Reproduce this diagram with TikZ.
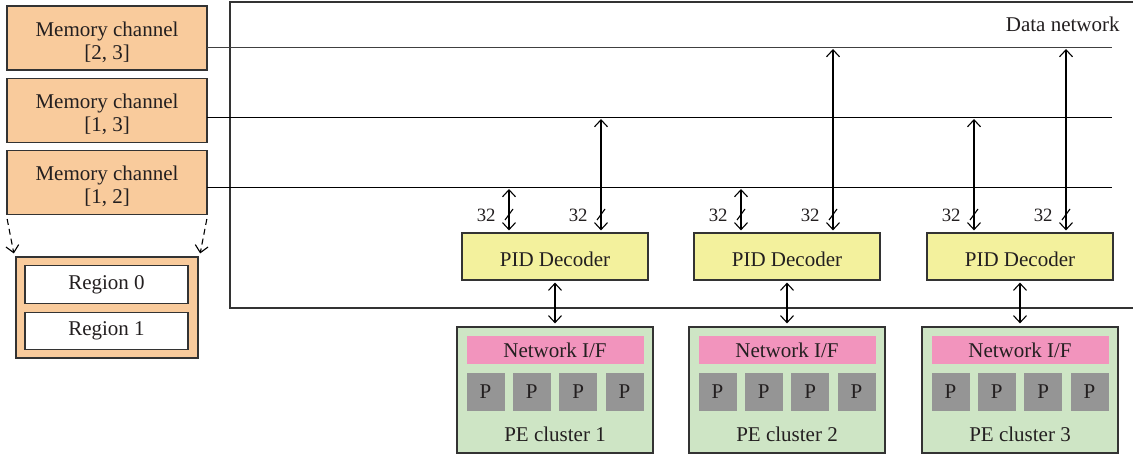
\documentclass[tikz,border=0pt]{standalone}
\usepackage{fontspec}
\setmainfont{Liberation Serif}
\usetikzlibrary{arrows.meta}

\definecolor{memfill}{HTML}{F9CB9C}
\definecolor{decfill}{HTML}{F3F19D}
\definecolor{pefill}{HTML}{CEE5C5}
\definecolor{niffill}{HTML}{F294BD}
\definecolor{pfill}{HTML}{959595}
\definecolor{edge}{HTML}{333333}
\definecolor{ink}{HTML}{231F20}

\tikzset{
  txt/.style={font=\fontsize{10.5}{11.6}\selectfont, text=ink},
  box/.style={draw=edge, line width=0.6pt, inner sep=0pt, align=center, txt},
  membox/.style={box, fill=memfill, minimum width=100pt, minimum height=32pt},
  memtext/.style={txt, align=center, inner sep=0pt},
  regbox/.style={box, fill=white, minimum width=81.5pt, minimum height=18.8pt},
  decbox/.style={box, fill=decfill, minimum width=93pt, minimum height=23.5pt, text height=9.8pt, text depth=0pt},
  pebox/.style={box, fill=pefill, minimum width=98pt, minimum height=63pt},
  nifbox/.style={inner sep=0pt, fill=niffill, minimum width=88.5pt, minimum height=13.8pt, txt},
  pbox/.style={inner sep=0pt, fill=pfill, minimum width=19pt, minimum height=19pt, txt},
  busline/.style={draw=black, line width=0.55pt},
  biarrow/.style={draw=black, line width=0.55pt, {Straight Barb[length=3.5pt,width=6.5pt]}-{Straight Barb[length=3.5pt,width=6.5pt]}},
  dasharrow/.style={draw=black, line width=0.55pt, dash pattern=on 3pt off 2pt, -{Straight Barb[length=3.5pt,width=6.5pt]}},
  widthlab/.style={font=\fontsize{9.4}{10}\selectfont, text=ink, inner sep=0pt, anchor=east},
}

\begin{document}
\begin{tikzpicture}[x=0.5pt, y=-0.5pt]
\useasboundingbox (0,0) rectangle (1133,459);

% data network frame (open on the right)
\draw[line width=0.6pt, draw=edge] (1133,2) -- (230,2) -- (230,308) -- (1133,308);
\node[txt, anchor=east, inner sep=0pt] (dn) at (1120,24) {Data network};

% memory channels
\node[membox] (m23) at (107,38)  {};
\node[memtext] (m23t) at (107,42) {Memory channel\\{}[2, 3]};
\node[membox] (m13) at (107,110.5) {};
\node[memtext] (m13t) at (107,114.5) {Memory channel\\{}[1, 3]};
\node[membox] (m12) at (107,182.5) {};
\node[memtext] (m12t) at (107,186.5) {Memory channel\\{}[1, 2]};

% bus lines of the data network
\coordinate (a23) at (207,47.5);  \coordinate (b23) at (1112,47.5);
\coordinate (a13) at (207,117.5); \coordinate (b13) at (1112,117.5);
\coordinate (a12) at (207,187.5); \coordinate (b12) at (1112,187.5);
\draw[busline, line width=0.8pt, draw=black!75] (a23) -- (b23);
\draw[busline] (a13) -- (b13);
\draw[busline] (a12) -- (b12);

% memory regions
\node[box, fill=memfill, minimum width=91pt, minimum height=50.5pt] (reg) at (107,307.5) {};
\node[regbox] (r0) at (106.5,284.5) {Region 0};
\node[regbox] (r1) at (106.5,331) {Region 1};
\draw[dasharrow, shorten <=2pt, shorten >=1.5pt] (m12.south west) -- ([xshift=-0.5pt]reg.north west);
\draw[dasharrow, shorten <=2pt, shorten >=1.5pt] (m12.south east) -- ([xshift=0.5pt]reg.north east);

% decoders and PE clusters
\foreach \i/\cx/\ya/\yb in {1/555/187.5/117.5, 2/787/187.5/47.5, 3/1020/117.5/47.5}{
  \node[decbox] (d\i) at (\cx,256.5) {PID Decoder};
  \node[pebox]  (c\i) at (\cx,390) {};
  \node[nifbox] (n\i) at (\cx,350) {Network I/F};
  \foreach \k/\dx in {1/-69.5, 2/-23.2, 3/23.2, 4/69.5}{
    \node[pbox] (p\i\k) at (\cx+\dx,392) {P};
  }
  \node[txt, inner sep=0pt] (cl\i) at (\cx,434) {PE cluster \i};
  \draw[biarrow, shorten <=1pt, shorten >=1.5pt] (d\i.south) -- (c\i.north);
  % links to the bus lines, 32 bits wide
  \coordinate (ua\i) at (\cx-46,\ya+1.5);
  \coordinate (ub\i) at (\cx+46,\yb+1.5);
  \draw[biarrow, shorten >=1pt] (ua\i) -- (ua\i |- d\i.north);
  \draw[biarrow, shorten >=1pt] (ub\i) -- (ub\i |- d\i.north);
  \draw[line width=0.55pt] (\cx-50,220) -- (\cx-42,209);
  \draw[line width=0.55pt] (\cx+42,220) -- (\cx+50,209);
  \node[widthlab] (wa\i) at (\cx-59,215.5) {32};
  \node[widthlab] (wb\i) at (\cx+33,215.5) {32};
}
\end{tikzpicture}
\end{document}
